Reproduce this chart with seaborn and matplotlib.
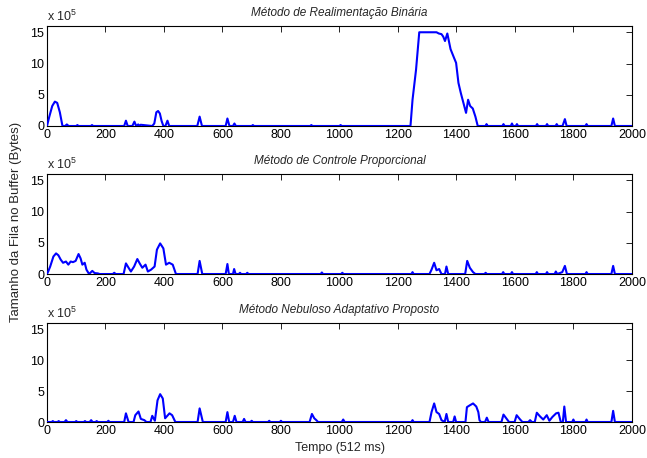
import matplotlib
matplotlib.use('Agg')
import matplotlib.pyplot as plt
import seaborn as sns

# tempo (amostras de 512 ms) e fila no buffer (unidades de 10^5 bytes)
t_bin = [0, 8, 18, 27, 35, 44, 53, 62, 68, 74,
         100, 104, 108, 150, 154, 158, 264, 270, 276, 292,
         299, 305, 312, 316, 320, 360, 367, 374, 380, 386,
         392, 398, 405, 412, 418, 514, 522, 530, 611, 617,
         624, 636, 641, 646, 700, 704, 708, 900, 904, 908,
         1000, 1004, 1008, 1243, 1250, 1262, 1273, 1300, 1332, 1340,
         1349, 1355, 1361, 1369, 1380, 1392, 1399, 1407, 1415, 1424,
         1433, 1440, 1447, 1456, 1465, 1473, 1500, 1503, 1507, 1557,
         1561, 1565, 1586, 1590, 1594, 1603, 1607, 1611, 1672, 1676,
         1680, 1706, 1710, 1714, 1739, 1743, 1747, 1763, 1771, 1777,
         1841, 1845, 1849, 1930, 1936, 1942, 2000]
fila_bin = [0, 1.5, 3.2, 3.9, 3.7, 2.2, 0, 0, 0.25, 0,
            0, 0.15, 0, 0, 0.15, 0, 0, 0.85, 0, 0,
            0.7, 0, 0.25, 0, 0.2, 0, 0.4, 2.2, 2.4, 2.0,
            0.8, 0, 0, 0.85, 0, 0, 1.5, 0, 0, 1.2,
            0, 0, 0.4, 0, 0, 0.15, 0, 0, 0.15, 0,
            0, 0.15, 0, 0, 4.2, 9.0, 15.0, 15.0, 15.0, 14.8,
            14.7, 14.3, 13.6, 14.8, 12.3, 10.9, 10.1, 6.9, 5.3, 3.7,
            2.1, 4.2, 3.2, 2.8, 1.5, 0, 0, 0.3, 0, 0,
            0.3, 0, 0, 0.4, 0, 0, 0.3, 0, 0, 0.3,
            0, 0, 0.3, 0, 0, 0.3, 0, 0, 1.1, 0,
            0, 0.3, 0, 0, 1.2, 0, 0]

t_prop = [0, 5, 11, 22, 31, 39, 47, 55, 65, 73,
          81, 89, 98, 108, 115, 121, 129, 135, 144, 155,
          163, 174, 180, 225, 230, 235, 262, 270, 279, 287,
          298, 309, 317, 326, 337, 345, 356, 368, 376, 387,
          398, 407, 418, 430, 441, 515, 522, 531, 611, 617,
          622, 636, 640, 645, 656, 660, 664, 681, 685, 689,
          936, 940, 944, 1006, 1010, 1014, 1246, 1250, 1254, 1308,
          1315, 1324, 1332, 1341, 1349, 1361, 1366, 1372, 1430, 1437,
          1446, 1457, 1465, 1496, 1500, 1504, 1556, 1560, 1564, 1586,
          1590, 1594, 1671, 1675, 1679, 1706, 1710, 1714, 1736, 1740,
          1745, 1762, 1771, 1778, 1841, 1845, 1849, 1930, 1936, 1942, 2000]
fila_prop = [0, 0.5, 1.2, 2.8, 3.3, 3.0, 2.3, 1.8, 2.0, 1.5,
             2.0, 1.9, 2.1, 3.2, 2.5, 1.5, 1.8, 0.7, 0, 0.5,
             0.15, 0.1, 0, 0, 0.2, 0, 0, 1.7, 1.0, 0.4,
             1.2, 2.4, 1.7, 1.0, 1.5, 0.4, 0.7, 1.2, 3.9, 4.9,
             4.1, 1.5, 1.8, 1.5, 0, 0, 2.1, 0, 0, 1.6,
             0, 0, 0.8, 0, 0, 0.2, 0, 0, 0.2, 0,
             0, 0.25, 0, 0, 0.2, 0, 0, 0.3, 0, 0,
             0.7, 1.8, 0.6, 0.8, 0, 0, 1.2, 0, 0, 2.1,
             1.0, 0.3, 0, 0, 0.2, 0, 0, 0.3, 0, 0,
             0.3, 0, 0, 0.3, 0, 0, 0.3, 0, 0, 0.4,
             0, 0.3, 1.3, 0, 0, 0.3, 0, 0, 1.3, 0, 0]

t_neb = [0, 16, 20, 24, 36, 40, 44, 60, 65, 70,
         96, 100, 104, 126, 130, 134, 146, 151, 156, 166,
         170, 174, 206, 210, 214, 264, 270, 279, 296, 302,
         313, 321, 333, 340, 354, 360, 369, 378, 387, 396,
         404, 419, 428, 439, 515, 522, 533, 611, 617, 623,
         636, 642, 648, 669, 674, 679, 696, 700, 704, 756,
         760, 764, 796, 800, 804, 898, 906, 914, 921, 927,
         1008, 1013, 1018, 1246, 1250, 1254, 1308, 1315, 1324, 1332,
         1341, 1349, 1360, 1366, 1372, 1389, 1394, 1399, 1431, 1436,
         1446, 1457, 1468, 1475, 1479, 1484, 1498, 1504, 1510, 1554,
         1561, 1572, 1580, 1599, 1606, 1618, 1626, 1646, 1652, 1658,
         1668, 1675, 1686, 1697, 1709, 1718, 1728, 1741, 1749, 1757,
         1764, 1769, 1775, 1796, 1800, 1804, 1841, 1845, 1849, 1930, 1936, 1942, 2000]
fila_neb = [0, 0, 0.15, 0, 0, 0.15, 0, 0, 0.3, 0,
            0, 0.15, 0, 0, 0.15, 0, 0, 0.3, 0, 0,
            0.15, 0, 0, 0.2, 0, 0, 1.4, 0, 0, 1.1,
            1.7, 0.5, 0.3, 0, 0, 1.0, 0.2, 3.5, 4.5, 3.8,
            0.6, 1.4, 1.1, 0, 0, 2.2, 0, 0, 1.6, 0,
            0, 1.0, 0, 0, 0.5, 0, 0, 0.2, 0, 0,
            0.2, 0, 0, 0.2, 0, 0, 1.3, 0.6, 0.3, 0,
            0, 0.4, 0, 0, 0.3, 0, 0, 1.6, 3.0, 1.6,
            1.3, 0.3, 0, 1.3, 0, 0, 0.9, 0, 0, 2.4,
            2.7, 3.0, 2.5, 1.6, 0.3, 0, 0, 0.7, 0, 0,
            1.2, 0.5, 0, 0, 1.1, 0.4, 0, 0, 0.3, 0,
            0, 1.5, 0.9, 0.4, 1.1, 0.2, 0.8, 1.4, 1.5, 0,
            0, 2.5, 0, 0, 0.4, 0, 0, 0.4, 0, 0, 1.8, 0, 0]

titulos = ['Método de Realimentação Binária',
           'Método de Controle Proporcional',
           'Método Nebuloso Adaptativo Proposto']
series = [(t_bin, fila_bin), (t_prop, fila_prop), (t_neb, fila_neb)]

sns.set_theme(style='white')
plt.rcParams['font.family'] = ['Liberation Sans', 'DejaVu Sans']
plt.rcParams['mathtext.fontset'] = 'custom'
plt.rcParams['mathtext.rm'] = 'Liberation Sans'

fig = plt.figure(figsize=(6.47, 4.58), dpi=100)
caixas = [[0.0726, 0.7249, 0.904, 0.2183],
          [0.0726, 0.4017, 0.904, 0.2183],
          [0.0726, 0.0786, 0.904, 0.2162]]

for caixa, titulo, (t, q) in zip(caixas, titulos, series):
    ax = fig.add_axes(caixa)
    sns.lineplot(x=t, y=q, ax=ax, color='#0000ff', linewidth=1.5, zorder=3)
    ax.set_xlim(0, 2000)
    ax.set_ylim(0, 16)
    ax.set_xticks(range(0, 2001, 200))
    ax.set_yticks([0, 5, 10, 15])
    ax.tick_params(direction='in', top=True, right=True, length=4, width=0.6,
                   labelsize=9, pad=2, colors='black')
    for s in ax.spines.values():
        s.set_color('black')
        s.set_linewidth(0.8)
    ax.set_title(titulo, fontsize=8.5, style='italic', pad=7)
    ax.text(0, 1.025, r'x 10$^{\mathrm{5}}$', transform=ax.transAxes,
            fontsize=9, va='bottom', ha='left')
    ax.set_xlabel('')
    ax.set_ylabel('')

fig.text(16 / 647, 0.515, 'Tamanho da Fila no Buffer (Bytes)', rotation=90,
         ha='center', va='center', fontsize=9.5)
fig.text(340 / 647, 1 - 448 / 458, 'Tempo (512 ms)', ha='center', va='center',
         fontsize=9)

fig.savefig('out.png', dpi=100)
